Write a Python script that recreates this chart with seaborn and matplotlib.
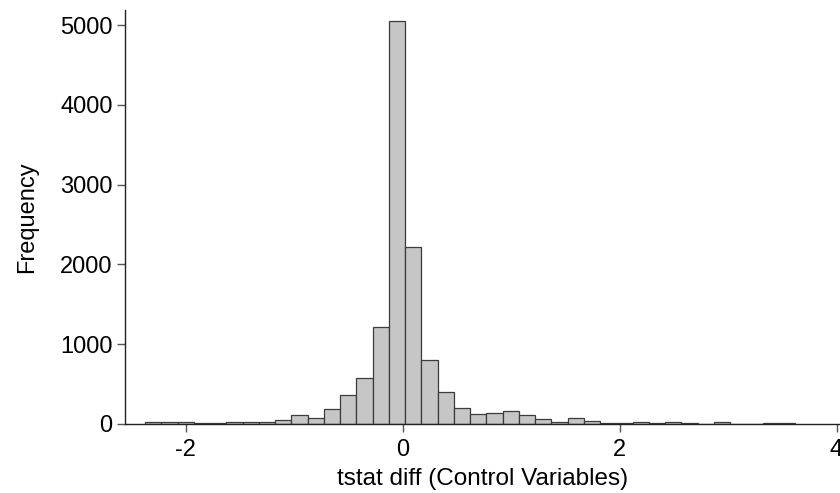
import numpy as np
import pandas as pd
import matplotlib
matplotlib.use("Agg")
import matplotlib.pyplot as plt
import seaborn as sns

# histogram bins: 40 bins of equal width
bin_start = -2.375
bin_width = 0.1498
counts = [21, 25, 21, 8, 8, 21, 30, 25, 45, 112,
          72, 186, 368, 570, 1220, 5045, 2222, 806, 405, 200,
          130, 138, 163, 109, 59, 21, 71, 41, 8, 8,
          20, 8, 25, 8, 5, 20, 2, 2, 8, 8]

edges = bin_start + bin_width * np.arange(len(counts) + 1)
centers = (edges[:-1] + edges[1:]) / 2
df = pd.DataFrame({"tstat_diff": centers, "n": counts})

sns.set_style("ticks")
plt.rcParams["font.family"] = ["Liberation Sans", "DejaVu Sans"]
plt.rcParams["axes.unicode_minus"] = False
plt.rcParams["text.color"] = "black"
plt.rcParams["axes.labelcolor"] = "black"

fig = plt.figure(figsize=(8.4, 4.93), dpi=100)
ax = fig.add_axes([0.149, 0.14, 0.851, 0.84])

sns.histplot(data=df, x="tstat_diff", weights="n", bins=list(edges), ax=ax,
             color="#c6c6c6", edgecolor="#3c3c3c", linewidth=0.9, alpha=1)

ax.set_xlim(-2.56, 4.032)
ax.set_ylim(0, 5190)
ax.set_xticks([-2, 0, 2, 4])
ax.set_yticks([0, 1000, 2000, 3000, 4000, 5000])
ax.set_xlabel("tstat diff (Control Variables)", fontsize=17.5, labelpad=5)
ax.set_ylabel("Frequency", fontsize=17, labelpad=16)
ax.tick_params(axis="both", labelsize=17, length=6, width=1, color="#555555",
               labelcolor="black", pad=3)
ax.tick_params(axis="x", pad=5)
sns.despine(ax=ax)
for s in ["left", "bottom"]:
    ax.spines[s].set_color("#222222")
    ax.spines[s].set_linewidth(1)

fig.savefig("out.png", dpi=100)
